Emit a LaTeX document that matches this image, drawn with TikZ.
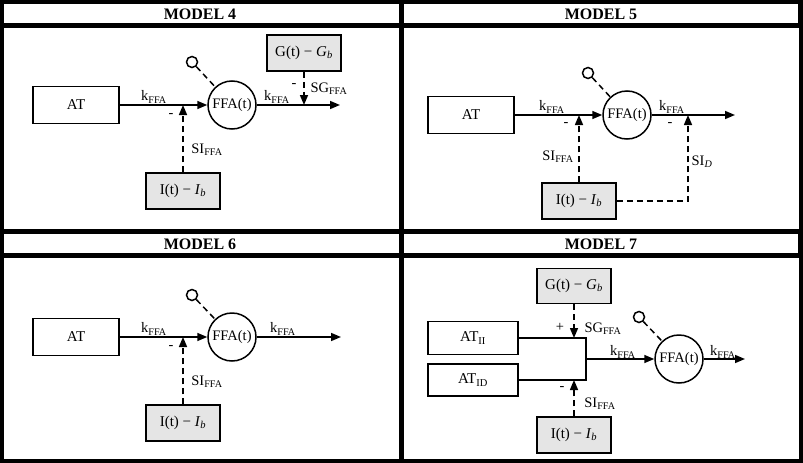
\documentclass[tikz,border=0pt]{standalone}
\usepackage{fontspec}
\setmainfont{Liberation Serif}
\usetikzlibrary{arrows.meta}

\begin{document}
\begin{tikzpicture}[x=1pt, y=-1pt, line width=1.5pt,
    >={Triangle[length=10pt, width=8pt]},
    box/.style={shape = rectangle, draw = black, fill = white,
      minimum width=86pt, minimum height=37pt, font=\fontsize{15}{17}\selectfont},
    inbox/.style={box, fill = gray!20, minimum width=74pt, minimum height=36pt},
    pool/.style={shape = circle, draw = black, fill = white, minimum size=48pt,
      inner sep=0pt, font=\fontsize{14.5}{16}\selectfont},
    probe/.style={shape = circle, draw = black, minimum size=11pt, inner sep=0pt},
    fb/.style={dash pattern=on 6pt off 4pt},
    lbl/.style={inner sep=0pt, font=\fontsize{14.5}{16}\selectfont},
    title/.style={inner sep=0pt, font=\fontsize{16}{18}\selectfont\bfseries}]

        \useasboundingbox (0, 0) rectangle (803, 463);

        % ------------------------------------------------------------------------
        % Frame
        \fill[black] (0, 0) rectangle (803, 463);
        \fill[white] (4, 4)     rectangle (399, 23);
        \fill[white] (404, 4)   rectangle (798, 23);
        \fill[white] (4, 28)    rectangle (399, 229);
        \fill[white] (404, 28)  rectangle (799, 229);
        \fill[white] (4, 234)   rectangle (399, 253);
        \fill[white] (404, 234) rectangle (798, 253);
        \fill[white] (4, 258)   rectangle (399, 459);
        \fill[white] (404, 258) rectangle (799, 459);

        \node[title] at (200, 14)  (t4) {MODEL 4};
        \node[title] at (601, 14)  (t5) {MODEL 5};
        \node[title] at (200, 244) (t6) {MODEL 6};
        \node[title] at (601, 244) (t7) {MODEL 7};

        % ------------------------------------------------------------------------
        % Model 4
        \node[box]   at (76, 105)  (at4)  {AT};
        \node[pool]  at (232, 105) (ffa4) {FFA(t)};
        \node[probe] at (192, 62)  (mag4) {};
        \node[inbox] at (183, 191) (in4)  {I(t) − \textit{I}\textsubscript{\textit{b}}};
        \node[inbox] at (304, 53)  (gl4)  {G(t) − \textit{G}\textsubscript{\textit{b}}};

        \coordinate (si4)  at (183, 105);
        \coordinate (sg4)  at (304, 105);
        \coordinate (out4) at (340, 105);

        \draw[->]
          (at4)  edge (ffa4)
          (ffa4) edge (out4)
        ;
        \draw[->, fb]
          (in4) edge (si4)
          (gl4) edge (sg4)
        ;
        \draw[fb] (mag4) -- (ffa4);

        \node[lbl] at (154, 97)  (k4a)  {k\textsubscript{FFA}};
        \node[lbl] at (171, 116) (s4a)  {-};
        \node[lbl] at (207, 150) (l4a)  {SI\textsubscript{FFA}};
        \node[lbl] at (277, 97)  (k4b)  {k\textsubscript{FFA}};
        \node[lbl] at (294, 86)  (s4b)  {-};
        \node[lbl] at (329, 89)  (l4b)  {SG\textsubscript{FFA}};

        % ------------------------------------------------------------------------
        % Model 5
        \node[box]   at (471, 115) (at5)  {AT};
        \node[pool]  at (627, 115) (ffa5) {FFA(t)};
        \node[probe] at (588, 73)  (mag5) {};
        \node[inbox] at (579, 201) (in5)  {I(t) − \textit{I}\textsubscript{\textit{b}}};

        \coordinate (si5)  at (579, 115);
        \coordinate (sd5)  at (688, 115);
        \coordinate (out5) at (735, 115);

        \draw[->]
          (at5)  edge (ffa5)
          (ffa5) edge (out5)
        ;
        \draw[->, fb] (in5) -- (si5);
        \draw[->, fb] (in5.east) -| (sd5);
        \draw[fb] (mag5) -- (ffa5);

        \node[lbl] at (552, 107) (k5a) {k\textsubscript{FFA}};
        \node[lbl] at (566, 125) (s5a) {-};
        \node[lbl] at (558, 157) (l5a) {SI\textsubscript{FFA}};
        \node[lbl] at (672, 107) (k5b) {k\textsubscript{FFA}};
        \node[lbl] at (670, 125) (s5b) {-};
        \node[lbl] at (702, 162) (l5b) {SI\textsubscript{\textit{D}}};

        % ------------------------------------------------------------------------
        % Model 6
        \node[box]   at (76, 337)  (at6)  {AT};
        \node[pool]  at (232, 337) (ffa6) {FFA(t)};
        \node[probe] at (192, 295) (mag6) {};
        \node[inbox] at (183, 423) (in6)  {I(t) − \textit{I}\textsubscript{\textit{b}}};

        \coordinate (si6)  at (183, 337);
        \coordinate (out6) at (341, 337);

        \draw[->]
          (at6)  edge (ffa6)
          (ffa6) edge (out6)
        ;
        \draw[->, fb] (in6) -- (si6);
        \draw[fb] (mag6) -- (ffa6);

        \node[lbl] at (154, 329) (k6a) {k\textsubscript{FFA}};
        \node[lbl] at (171, 348) (s6a) {-};
        \node[lbl] at (207, 382) (l6a) {SI\textsubscript{FFA}};
        \node[lbl] at (283, 329) (k6b) {k\textsubscript{FFA}};

        % ------------------------------------------------------------------------
        % Model 7
        \node[box, minimum width=90pt, minimum height=33pt] at (473, 338) (ii7) {AT\textsubscript{II}};
        \node[box, minimum width=90pt, minimum height=32pt] at (473, 380) (id7) {AT\textsubscript{ID}};
        \node[pool]  at (679, 359) (ffa7) {FFA(t)};
        \node[probe] at (639, 317) (mag7) {};
        \node[inbox, minimum height=35pt] at (574, 286) (gl7) {G(t) − \textit{G}\textsubscript{\textit{b}}};
        \node[inbox] at (574, 435) (in7)  {I(t) − \textit{I}\textsubscript{\textit{b}}};

        \coordinate (jn7)  at (586, 359);
        \coordinate (bt7)  at (586, 380);
        \coordinate (sg7)  at (574, 338);
        \coordinate (si7)  at (574, 380);
        \coordinate (out7) at (745, 359);

        \draw (ii7.east) -| (bt7) -- (id7.east);
        \draw[->] (jn7) -- (ffa7);
        \draw[->] (ffa7) -- (out7);
        \draw[->, fb] (gl7) -- (sg7);
        \draw[->, fb] (in7) -- (si7);
        \draw[fb] (mag7) -- (ffa7);

        \node[lbl] at (560, 327) (s7a) {+};
        \node[lbl] at (603, 329) (l7a) {SG\textsubscript{FFA}};
        \node[lbl] at (623, 352) (k7a) {k\textsubscript{FFA}};
        \node[lbl] at (562, 389) (s7b) {-};
        \node[lbl] at (600, 404) (l7b) {SI\textsubscript{FFA}};
        \node[lbl] at (723, 352) (k7b) {k\textsubscript{FFA}};
      \end{tikzpicture}
\end{document}
